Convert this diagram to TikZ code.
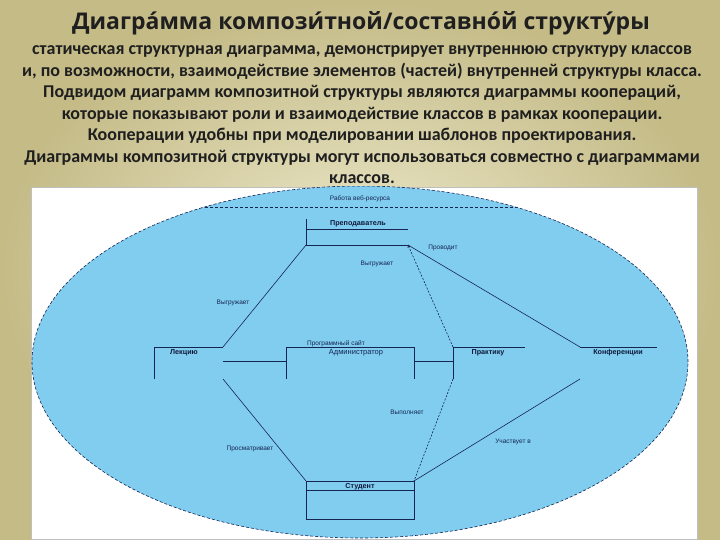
\documentclass[tikz,border=0pt]{standalone}
\usepackage{fontspec}
\setmainfont{Carlito}
\newfontfamily\umlfont{Liberation Sans}
\newfontfamily\titlefont{Open Sans}
\usetikzlibrary{shapes.geometric,arrows.meta}
\definecolor{bgin}{RGB}{238,234,205}
\definecolor{bgout}{RGB}{196,187,135}
\definecolor{collfill}{RGB}{128,205,240}
\definecolor{umlline}{RGB}{22,36,82}
\colorlet{txtcol}{black!88}

\begin{document}
\begin{tikzpicture}[x=1pt, y=-1pt,
	every node/.style={inner sep=0pt, outer sep=0pt},
	panel/.style={rectangle, fill=white, draw=black!25, line width=0.5pt},
	collab/.style={ellipse, fill=collfill, draw=umlline, line width=0.6pt, dash pattern=on 3pt off 2pt},
	part/.style={rectangle, minimum height=32pt},
	parttext/.style={font=\umlfont\bfseries\fontsize{7.2}{8}\selectfont, text=umlline!70!black},
	roletext/.style={font=\umlfont\fontsize{6.5}{8}\selectfont, text=umlline},
	umlline/.style={draw=umlline, line width=0.6pt},
	link/.style={umlline},
	deplink/.style={umlline, dash pattern=on 2pt off 1.5pt},
	titletext/.style={font=\titlefont\bfseries\fontsize{23}{27}\selectfont, text=txtcol},
	bodytext/.style={font=\bfseries\fontsize{18}{21}\selectfont, text=txtcol}]

	\shade[inner color=bgin, outer color=bgout] (0,0) rectangle (720,540);

	\node[titletext, anchor=base] (title) at (361,30) {Диагра́мма компози́тной/составно́й структу́ры};
	\foreach \txt [count=\i] in {
		{статическая структурная диаграмма, демонстрирует внутреннюю структуру классов},
		{и, по возможности, взаимодействие элементов (частей) внутренней структуры класса.},
		{Подвидом диаграмм композитной структуры являются диаграммы коопераций,},
		{которые показывают роли и взаимодействие классов в рамках кооперации.},
		{Кооперации удобны при моделировании шаблонов проектирования.},
		{Диаграммы композитной структуры могут использоваться совместно с диаграммами},
		{классов.}}
		\node[bodytext, anchor=base] (line\i) at (362,33.5+21.5*\i) {\txt};

	\node[panel, minimum width=666pt, minimum height=352pt] (panel) at (364,363) {};

	% cooperation
	\begin{scope}
		\clip (panel.north west) rectangle (panel.south east);
		\node[collab, minimum width=656pt, minimum height=352pt] (coll) at (360,362) {};
	\end{scope}
	\begin{scope}
		\clip (360,362) ellipse [x radius=328, y radius=176];
		\draw[umlline, dash pattern=on 3pt off 2pt] (0,207) -- (720,207);
	\end{scope}
	\node[roletext] (colltitle) at (360,199) {Работа веб-ресурса};

	% parts
	\node[part, minimum width=102pt, minimum height=26pt] (teach) at (357,232) {};
	\node[part, minimum width=69pt] (lec) at (188.5,363) {};
	\node[part, minimum width=128pt] (adm) at (350.5,363) {};
	\node[part, minimum width=72pt] (prac) at (489,363) {};
	\node[part, minimum width=77pt] (conf) at (618.5,363) {};
	\node[part, minimum width=108pt, minimum height=38pt] (stud) at (360,500) {};

	\draw[umlline] (teach.north west) -- (teach.south west) -- (teach.south east);
	\draw[umlline] ([yshift=-10pt]teach.north west) -- ([yshift=-10pt]teach.north east);
	\draw[umlline] (lec.south west) -- (lec.north west) -- (lec.north east);
	\draw[umlline] (adm.south west) -- (adm.north west) -- (adm.north east) -- (adm.south east);
	\draw[umlline] (prac.south west) -- (prac.north west) -- (prac.north east);
	\draw[umlline] (conf.north west) -- (conf.north east);
	\draw[umlline] (stud.north west) rectangle (stud.south east);
	\draw[umlline] ([yshift=-9pt]stud.north west) -- ([yshift=-9pt]stud.north east);

	\node[parttext] (teachname) at (358,224) {Преподаватель};
	\node[parttext] (lecname) at (184,353) {Лекцию};
	\node[roletext] (admtype) at (336,343.5) {Программный сайт};
	\node[roletext, font=\umlfont\fontsize{7.5}{8}\selectfont] (admname) at (356,353) {Администратор};
	\node[parttext] (pracname) at (488,353) {Практику};
	\node[parttext] (confname) at (618,353) {Конференции};
	\node[parttext] (studname) at (360,487) {Студент};

	% connectors
	\draw[link] (teach.south west) -- (lec.north east);
	\draw[deplink, -{To[length=3pt,width=3pt]}] (prac.north west) -- (teach.south east);
	\draw[link] (teach.south east) -- (conf.north west);
	\draw[link] ([yshift=-14pt]lec.north east) -- ([yshift=-14pt]adm.north west);
	\draw[link] ([yshift=-14pt]adm.north east) -- ([yshift=-14pt]prac.north west);
	\draw[link] (lec.south east) -- (stud.north west);
	\draw[deplink] (prac.south west) -- (stud.north east);
	\draw[link] (conf.south west) -- (stud.north east);

	\node[roletext] (r1) at (233,303) {Выгружает};
	\node[roletext] (r2) at (377,264) {Выгружает};
	\node[roletext] (r3) at (443,248) {Проводит};
	\node[roletext] (r4) at (250,449) {Просматривает};
	\node[roletext] (r5) at (407,412) {Выполняет};
	\node[roletext] (r6) at (513,442) {Участвует в};
\end{tikzpicture}
\end{document}
